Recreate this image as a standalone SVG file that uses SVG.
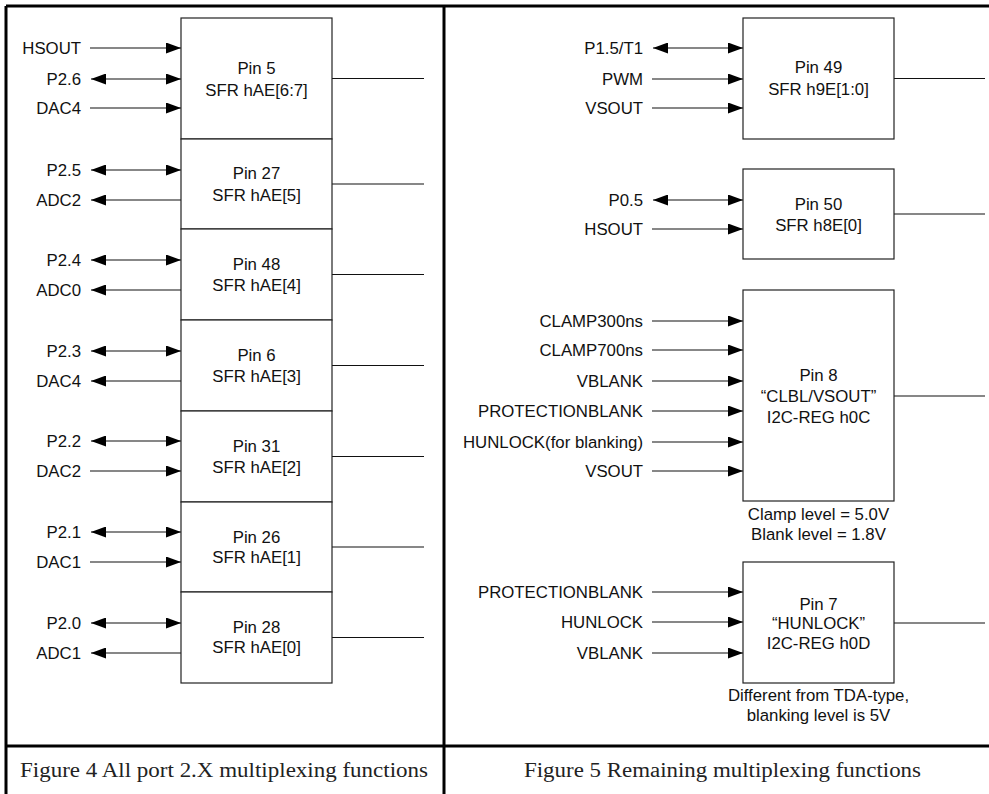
<svg xmlns="http://www.w3.org/2000/svg" width="989" height="794" viewBox="0 0 989 794">
<style>
.frame{stroke:#000;stroke-width:3;fill:none}
.box{fill:#fff;stroke:#222;stroke-width:1.2}
.ln{stroke:#111;stroke-width:1.2;fill:none}
.in{stroke:#111;stroke-width:1.2;fill:none;marker-end:url(#ah)}
.bi{stroke:#111;stroke-width:1.2;fill:none;marker-start:url(#ah);marker-end:url(#ah)}
text{font-family:"Liberation Sans",Arial,sans-serif;font-size:16.8px;fill:#111}
.c{text-anchor:middle}
.r{text-anchor:end}
.cap{font-family:"Liberation Serif","Times New Roman",serif;font-size:20px;fill:#222}
</style>
<defs>
<marker id="ah" viewBox="0 0 15 11" refX="15" refY="5.5" markerWidth="15" markerHeight="11" markerUnits="userSpaceOnUse" orient="auto-start-reverse">
<path d="M0,0 L15,5.5 L0,11 z" fill="#000"/>
</marker>
</defs>
<rect width="989" height="794" fill="#fff"/>
<g id="frame">
<line class="frame" x1="6" y1="6" x2="989" y2="6"/>
<line class="frame" x1="6" y1="6" x2="6" y2="794"/>
<line class="frame" x1="444" y1="6" x2="444" y2="794"/>
<line class="frame" x1="6" y1="746" x2="989" y2="746"/>
<text class="cap" x="20" y="777" textLength="408" lengthAdjust="spacingAndGlyphs">Figure 4 All port 2.X multiplexing functions</text>
<text class="cap" x="524" y="777" textLength="397" lengthAdjust="spacingAndGlyphs">Figure 5 Remaining multiplexing functions</text>
</g>
<g id="connectors">
<line class="ln" x1="332" y1="78.5" x2="424" y2="78.5"/>
<line class="ln" x1="332" y1="184" x2="424" y2="184"/>
<line class="ln" x1="332" y1="274.5" x2="424" y2="274.5"/>
<line class="ln" x1="332" y1="365.5" x2="424" y2="365.5"/>
<line class="ln" x1="332" y1="456.5" x2="424" y2="456.5"/>
<line class="ln" x1="332" y1="547" x2="424" y2="547"/>
<line class="ln" x1="332" y1="637.5" x2="424" y2="637.5"/>
<line class="in" x1="90" y1="48" x2="181" y2="48"/>
<line class="bi" x1="91" y1="79" x2="181" y2="79"/>
<line class="in" x1="90" y1="108" x2="181" y2="108"/>
<line class="bi" x1="91" y1="170" x2="181" y2="170"/>
<line class="in" x1="181" y1="200" x2="91" y2="200"/>
<line class="bi" x1="91" y1="260" x2="181" y2="260"/>
<line class="in" x1="181" y1="290" x2="91" y2="290"/>
<line class="bi" x1="91" y1="351" x2="181" y2="351"/>
<line class="in" x1="181" y1="381" x2="91" y2="381"/>
<line class="bi" x1="91" y1="441" x2="181" y2="441"/>
<line class="in" x1="90" y1="471" x2="181" y2="471"/>
<line class="bi" x1="91" y1="532" x2="181" y2="532"/>
<line class="in" x1="90" y1="562" x2="181" y2="562"/>
<line class="bi" x1="91" y1="623" x2="181" y2="623"/>
<line class="in" x1="181" y1="653" x2="91" y2="653"/>
<line class="ln" x1="894" y1="78.5" x2="985" y2="78.5"/>
<line class="ln" x1="894" y1="214" x2="985" y2="214"/>
<line class="ln" x1="894" y1="396" x2="985" y2="396"/>
<line class="ln" x1="894" y1="623" x2="985" y2="623"/>
<line class="bi" x1="653" y1="48" x2="743" y2="48"/>
<line class="in" x1="652" y1="79" x2="743" y2="79"/>
<line class="in" x1="652" y1="108" x2="743" y2="108"/>
<line class="bi" x1="653" y1="200" x2="743" y2="200"/>
<line class="in" x1="652" y1="229" x2="743" y2="229"/>
<line class="in" x1="652" y1="321" x2="743" y2="321"/>
<line class="in" x1="652" y1="350" x2="743" y2="350"/>
<line class="in" x1="652" y1="381" x2="743" y2="381"/>
<line class="in" x1="652" y1="411" x2="743" y2="411"/>
<line class="in" x1="652" y1="442" x2="743" y2="442"/>
<line class="in" x1="652" y1="471" x2="743" y2="471"/>
<line class="in" x1="652" y1="592" x2="743" y2="592"/>
<line class="in" x1="652" y1="622" x2="743" y2="622"/>
<line class="in" x1="652" y1="653" x2="743" y2="653"/>
</g>
<g id="pin5">
<rect class="box" x="181" y="18" width="151" height="121"/>
<text class="c" x="256.5" y="74">Pin 5</text>
<text class="c" x="256.5" y="96">SFR hAE[6:7]</text>
<text class="r" x="81" y="54">HSOUT</text>
<text class="r" x="81" y="85">P2.6</text>
<text class="r" x="81" y="114">DAC4</text>
</g>
<g id="pin27">
<rect class="box" x="181" y="139" width="151" height="90"/>
<text class="c" x="256.5" y="179">Pin 27</text>
<text class="c" x="256.5" y="201">SFR hAE[5]</text>
<text class="r" x="81" y="176">P2.5</text>
<text class="r" x="81" y="206">ADC2</text>
</g>
<g id="pin48">
<rect class="box" x="181" y="229" width="151" height="91"/>
<text class="c" x="256.5" y="270">Pin 48</text>
<text class="c" x="256.5" y="291">SFR hAE[4]</text>
<text class="r" x="81" y="266">P2.4</text>
<text class="r" x="81" y="296">ADC0</text>
</g>
<g id="pin6">
<rect class="box" x="181" y="320" width="151" height="91"/>
<text class="c" x="256.5" y="361">Pin 6</text>
<text class="c" x="256.5" y="382">SFR hAE[3]</text>
<text class="r" x="81" y="357">P2.3</text>
<text class="r" x="81" y="387">DAC4</text>
</g>
<g id="pin31">
<rect class="box" x="181" y="411" width="151" height="91"/>
<text class="c" x="256.5" y="452">Pin 31</text>
<text class="c" x="256.5" y="473">SFR hAE[2]</text>
<text class="r" x="81" y="447">P2.2</text>
<text class="r" x="81" y="477">DAC2</text>
</g>
<g id="pin26">
<rect class="box" x="181" y="502" width="151" height="90"/>
<text class="c" x="256.5" y="543">Pin 26</text>
<text class="c" x="256.5" y="563">SFR hAE[1]</text>
<text class="r" x="81" y="538">P2.1</text>
<text class="r" x="81" y="568">DAC1</text>
</g>
<g id="pin28">
<rect class="box" x="181" y="592" width="151" height="91"/>
<text class="c" x="256.5" y="633">Pin 28</text>
<text class="c" x="256.5" y="653">SFR hAE[0]</text>
<text class="r" x="81" y="629">P2.0</text>
<text class="r" x="81" y="659">ADC1</text>
</g>
<g id="pin49">
<rect class="box" x="743" y="18" width="151" height="121"/>
<text class="c" x="818.5" y="73">Pin 49</text>
<text class="c" x="818.5" y="95">SFR h9E[1:0]</text>
<text class="r" x="643" y="54">P1.5/T1</text>
<text class="r" x="643" y="85">PWM</text>
<text class="r" x="643" y="114">VSOUT</text>
</g>
<g id="pin50">
<rect class="box" x="743" y="169" width="151" height="90"/>
<text class="c" x="818.5" y="210">Pin 50</text>
<text class="c" x="818.5" y="231">SFR h8E[0]</text>
<text class="r" x="643" y="206">P0.5</text>
<text class="r" x="643" y="235">HSOUT</text>
</g>
<g id="pin8">
<rect class="box" x="743" y="290" width="151" height="211"/>
<text class="c" x="818.5" y="381">Pin 8</text>
<text class="c" x="818.5" y="402">“CLBL/VSOUT”</text>
<text class="c" x="818.5" y="423">I2C-REG h0C</text>
<text class="c" x="818.5" y="520">Clamp level = 5.0V</text>
<text class="c" x="818.5" y="540">Blank level = 1.8V</text>
<text class="r" x="643" y="327">CLAMP300ns</text>
<text class="r" x="643" y="356">CLAMP700ns</text>
<text class="r" x="643" y="387">VBLANK</text>
<text class="r" x="643" y="417">PROTECTIONBLANK</text>
<text class="r" x="643" y="448">HUNLOCK(for blanking)</text>
<text class="r" x="643" y="477">VSOUT</text>
</g>
<g id="pin7">
<rect class="box" x="743" y="562" width="151" height="121"/>
<text class="c" x="818.5" y="610">Pin 7</text>
<text class="c" x="818.5" y="629">“HUNLOCK”</text>
<text class="c" x="818.5" y="649">I2C-REG h0D</text>
<text class="c" x="818.5" y="701">Different from TDA-type,</text>
<text class="c" x="818.5" y="721">blanking level is 5V</text>
<text class="r" x="643" y="598">PROTECTIONBLANK</text>
<text class="r" x="643" y="628">HUNLOCK</text>
<text class="r" x="643" y="659">VBLANK</text>
</g>
</svg>
